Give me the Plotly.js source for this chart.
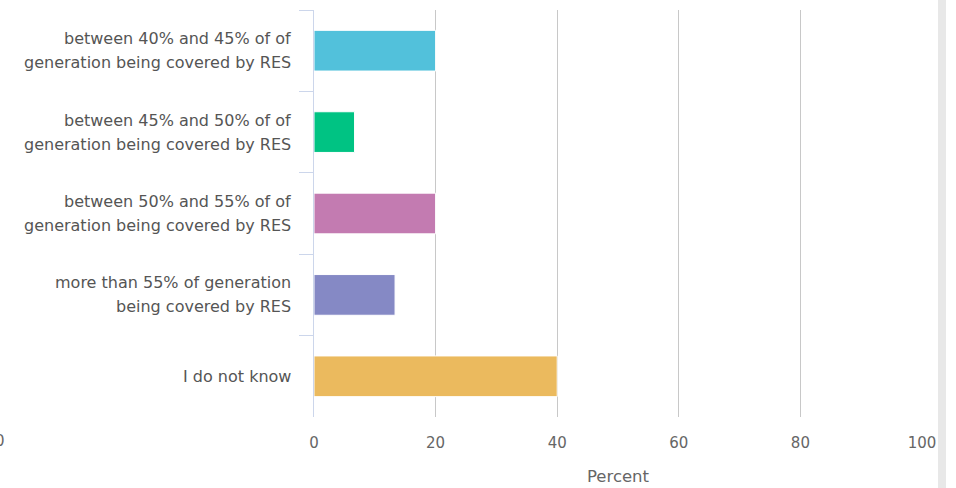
<!DOCTYPE html>
<html>
<head>
<meta charset="utf-8">
<script src="https://cdn.plot.ly/plotly-3.0.1.min.js"></script>
<style>html,body{margin:0;padding:0;background:#fff;}#chart{width:956px;height:488px;}</style>
</head>
<body>
<div id="chart"></div>
<script>
var categories = [
  "between 40% and 45% of of<br>generation being covered by RES",
  "between 45% and 50% of of<br>generation being covered by RES",
  "between 50% and 55% of of<br>generation being covered by RES",
  "more than 55% of generation<br>being covered by RES",
  "I do not know"
];
var values = [20, 6.67, 20, 13.33, 40];
var colors = ["#52C1DB", "#00C383", "#C37BB1", "#8589C5", "#EBBA5E"];
var xTicks = [0, 20, 40, 60, 80, 100];

var trace = {
  type: "bar",
  orientation: "h",
  x: values,
  y: categories,
  marker: {color: colors, line: {color: "#ffffff", width: 1}},
  hoverinfo: "x+y"
};

var annotations = [];
categories.forEach(function (cat) {
  var lines = cat.split("<br>");
  lines.forEach(function (ln, i) {
    annotations.push({
      xref: "paper", yref: "y", x: 0, y: cat,
      xanchor: "right", yanchor: "middle", xshift: -21,
      yshift: ((lines.length - 1) / 2 - i) * 24,
      text: ln, showarrow: false,
      font: {family: "DejaVu Sans, sans-serif", size: 16, color: "#555555"}
    });
  });
});
annotations.push({xref: "paper", yref: "paper", x: -314/608, y: -24/407, xanchor: "center", yanchor: "middle",
  text: "0", showarrow: false, font: {size: 15, color: "#666666"}});

var layout = {
  width: 956, height: 488,
  margin: {l: 314, r: 34, t: 10, b: 71},
  paper_bgcolor: "#ffffff", plot_bgcolor: "#ffffff",
  font: {family: "DejaVu Sans, sans-serif", size: 15, color: "#666666"},
  bargap: 0.5,
  showlegend: false,
  xaxis: {
    range: [0, 100],
    tickvals: xTicks,
    ticktext: xTicks.map(String),
    showgrid: true, gridcolor: "#c8c8c8", gridwidth: 1,
    zeroline: false, showline: false,
    ticks: "", ticklabelstandoff: 15,
    tickfont: {size: 15, color: "#666666"},
    title: {text: "Percent", font: {size: 16.5, color: "#666666"}, standoff: 19}
  },
  yaxis: {
    type: "category",
    autorange: "reversed",
    showline: true, linecolor: "#ccd6eb", linewidth: 1,
    ticks: "outside", ticklen: 14, tickcolor: "#ccd6eb", tickson: "boundaries",
    showgrid: false, zeroline: false,
    showticklabels: false
  },
  shapes: [
    {type: "rect", xref: "paper", yref: "paper", x0: (938-314)/608, x1: (946-314)/608, y0: -71/407, y1: 1 + 10/407,
     fillcolor: "#e8e8e8", line: {width: 0}, layer: "above"}
  ],
  annotations: annotations
};

Plotly.newPlot("chart", [trace], layout, {displayModeBar: false, staticPlot: true});
</script>
</body>
</html>
